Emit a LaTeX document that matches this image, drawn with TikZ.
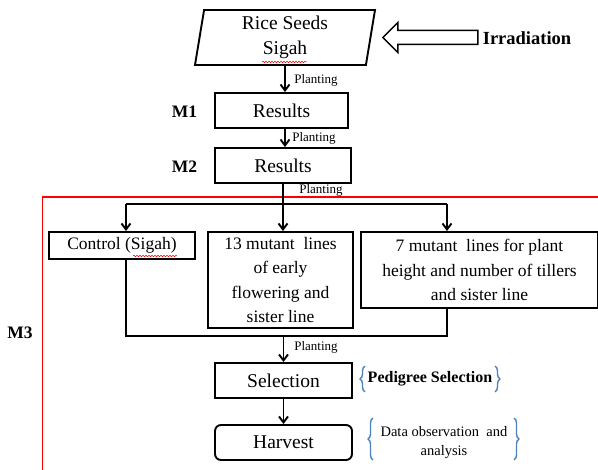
\documentclass[tikz,border=0pt]{standalone}
\usepackage{fontspec}
\setmainfont{Liberation Serif}
\usetikzlibrary{arrows.meta,shapes.geometric,calc,decorations.pathreplacing,decorations.pathmorphing}
\definecolor{bracecol}{RGB}{79,129,189}

\begin{document}
\begin{tikzpicture}[x=1pt, y=-1pt, >={Straight Barb[length=6pt,width=9pt]}, line width=1.9pt,
        box/.style={rectangle, draw, inner sep=0pt, align=center, font=\fontsize{19.5}{24}\selectfont},
        group box/.style={rectangle, draw, inner sep=0pt, align=center, font=\fontsize{17.5}{24.5}\selectfont},
        step label/.style={font=\fontsize{13}{14}\selectfont},
        gen label/.style={font=\bfseries\fontsize{17.5}{20}\selectfont},
        note/.style={align=center, font=\fontsize{14.5}{19}\selectfont},
        curly/.style={draw=bracecol, line width=1.4pt, decorate, decoration={brace, amplitude=5pt}},
        squiggle/.style={draw=red, line width=0.5pt, decorate, decoration={snake, amplitude=0.8pt, segment length=3pt}}]

    \useasboundingbox (0,0) rectangle (598,470);

    % Boxes
    \node[trapezium, draw, trapezium left angle=78, trapezium right angle=102, trapezium stretches body,
          minimum width=180pt, minimum height=55pt, inner sep=0pt, align=center,
          font=\fontsize{19.5}{25}\selectfont] (seeds) at (285,37.5) {Rice Seeds\\Sigah};
    \node[box, minimum width=133pt, minimum height=35pt] (res1) at (281.5,110.5) {Results};
    \node[box, minimum width=136pt, minimum height=35pt] (res2) at (283,165.5) {Results};
    \node[group box, minimum width=146pt, minimum height=27pt] (control) at (122,245.5) {Control (Sigah)};
    \node[group box, minimum width=145pt, minimum height=96pt] (early) at (280.5,280) {13 mutant\ \ lines\\of early\\flowering and\\sister line};
    \node[group box, minimum width=237pt, minimum height=76pt] (plant) at (479.5,270) {7 mutant\ \ lines for plant\\height and number of tillers\\and sister line};
    \node[box, minimum width=137pt, minimum height=35pt] (sel) at (283.5,380.5) {Selection};
    \node[box, rounded corners=6pt, minimum width=137pt, minimum height=35pt] (harv) at (283.5,442.5) {Harvest};

    % Labels
    \node[font=\bfseries\fontsize{18.5}{20}\selectfont] (irr) at (527,38) {Irradiation};
    \node[gen label] (m1) at (184.5,112) {M1};
    \node[gen label] (m2) at (184.5,167) {M2};
    \node[gen label] (m3) at (20,333) {M3};
    \node[step label] (p1) at (316,80) {Planting};
    \node[step label] (p2) at (314,138) {Planting};
    \node[step label] (p3) at (321,190) {Planting};
    \node[step label] (p4) at (316,347) {Planting};
    \node[font=\bfseries\fontsize{16}{17}\selectfont] (ped) at (430,379) {Pedigree Selection};
    \node[note] (obs) at (444,443) {Data observation\ \ and\\analysis};

    % M3 frame
    \draw[red, line width=1.5pt] (598,197) -- (42.5,197) -- (42.5,471);

    % Irradiation arrow
    \draw[line width=1.5pt] ([xshift=11.5pt]seeds.east) -- ++(15,-15) -- ++(0,8) -- ++(80,0)
        -- ++(0,14) -- ++(-80,0) -- ++(0,8) -- cycle;

    % Connectors
    \coordinate (bl) at (126,204);
    \coordinate (br) at (447,204);
    \coordinate (jl) at (126,336);
    \coordinate (jr) at (447,336);
    \draw[->] (seeds.south) -- (seeds.south |- res1.north);
    \draw[->] (seeds.south |- res1.south) -- (seeds.south |- res2.north);
    \draw[->] (res2.south) -- (res2.south |- early.north);
    \draw (bl) -- (br);
    \draw[->] (bl) -- (bl |- control.north);
    \draw[->] (br) -- (br |- plant.north);
    \draw (jl |- control.south) -- (jl) -- (jr) -- (jr |- plant.south);
    \draw[->] (sel.north |- jl) -- (sel.north);
    \draw[->] (sel.south) -- (harv.north);

    % Braces
    \draw[curly] (365,392) -- (365,366);
    \draw[curly] (495,366) -- (495,392);
    \draw[curly] (373,460) -- (373,418);
    \draw[curly] (514,418) -- (514,460);

    % Spelling marks
    \draw[squiggle] (262,62) -- (307,62);
    \draw[squiggle] (133,256) -- (177,256);
\end{tikzpicture}
\end{document}
